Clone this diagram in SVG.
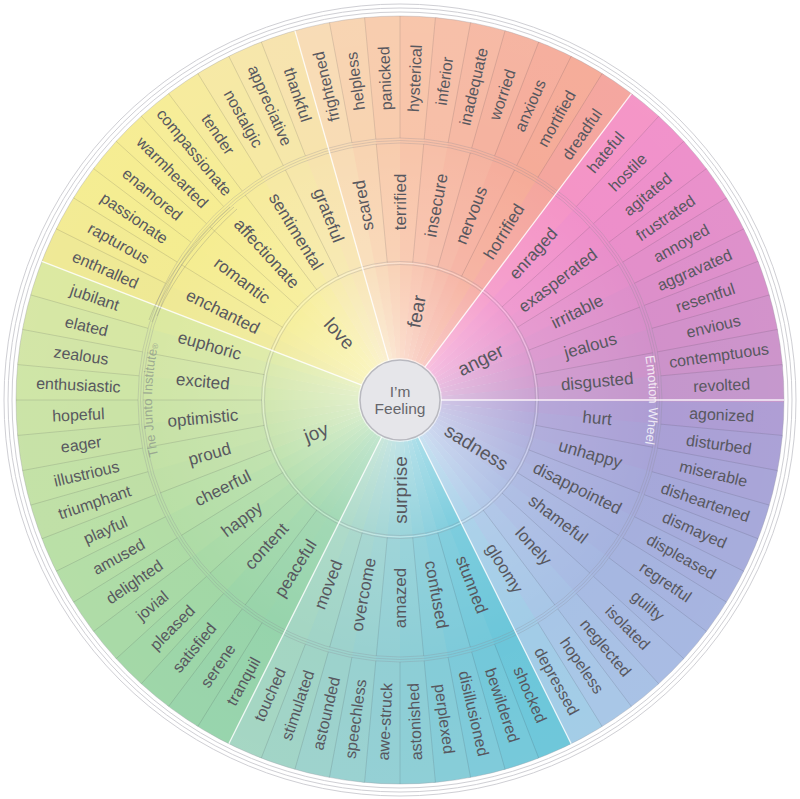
<svg xmlns="http://www.w3.org/2000/svg" width="800" height="799" viewBox="0 0 800 799">
<style>
text{font-family:"Liberation Sans",Arial,sans-serif;fill:#58585f;text-anchor:middle;dominant-baseline:central}
.o{font-size:16px}
.m{font-size:17px}
.c{font-size:19px}
.sep line{stroke:#3a3a48;stroke-opacity:.18;stroke-width:.8}
.main line{stroke:#fff;stroke-opacity:.85;stroke-width:1.3}
.ring{fill:none;stroke:#8a8a94;stroke-opacity:.35;stroke-width:.8}
.rim{fill:none;stroke:#cfcfd4;stroke-width:1}
</style>
<defs>
<path id="w" d="M0,0 L390,0 A390,390 0 0 1 388.137,38.059 Z"/>
<clipPath id="clip"><circle r="384"/></clipPath>
<radialGradient id="glow" cx="0" cy="0" r="384" gradientUnits="userSpaceOnUse">
<stop offset="0.1" stop-color="#fff" stop-opacity="0.45"/>
<stop offset="0.36" stop-color="#fff" stop-opacity="0.15"/>
<stop offset="0.68" stop-color="#fff" stop-opacity="0.04"/>
<stop offset="1" stop-color="#fff" stop-opacity="0.06"/>
</radialGradient>
<path id="jp" d="M-214.78,124 A248,248 0 0 1 -214.78,-124"/>
<path id="ep" d="M215.64,-124.5 A249,249 0 0 1 215.64,124.5"/>
</defs>
<rect width="800" height="799" fill="#fff"/>
<circle class="rim" cx="400" cy="400" r="388"/>
<circle class="rim" cx="400" cy="400" r="392"/>
<circle class="rim" cx="400" cy="400" r="396" stroke="#dcdce0"/>
<g transform="translate(400,400)">
<g id="colour-wheel" clip-path="url(#clip)">
<use href="#w" transform="rotate(0)" fill="#aa98d2"/>
<use href="#w" transform="rotate(5.294)" fill="#a69cd4"/>
<use href="#w" transform="rotate(10.588)" fill="#a4a0d6"/>
<use href="#w" transform="rotate(15.882)" fill="#a2a4d8"/>
<use href="#w" transform="rotate(21.176)" fill="#a2a8da"/>
<use href="#w" transform="rotate(26.471)" fill="#a2acdc"/>
<use href="#w" transform="rotate(31.765)" fill="#a2b0de"/>
<use href="#w" transform="rotate(37.059)" fill="#a2b4e0"/>
<use href="#w" transform="rotate(42.353)" fill="#a4b8e2"/>
<use href="#w" transform="rotate(47.647)" fill="#a4bee4"/>
<use href="#w" transform="rotate(52.941)" fill="#a4c4e6"/>
<use href="#w" transform="rotate(58.235)" fill="#9ecae6"/>
<use href="#w" transform="rotate(63.529)" fill="#66c4d8"/>
<use href="#w" transform="rotate(68.824)" fill="#6ec6d8"/>
<use href="#w" transform="rotate(74.118)" fill="#78c8d8"/>
<use href="#w" transform="rotate(79.412)" fill="#80cad6"/>
<use href="#w" transform="rotate(84.706)" fill="#88ccd4"/>
<use href="#w" transform="rotate(90)" fill="#8ecdd2"/>
<use href="#w" transform="rotate(95.294)" fill="#94cfce"/>
<use href="#w" transform="rotate(100.588)" fill="#98d0ca"/>
<use href="#w" transform="rotate(105.882)" fill="#9cd2c4"/>
<use href="#w" transform="rotate(111.176)" fill="#a0d4c0"/>
<use href="#w" transform="rotate(116.471)" fill="#92d2a8"/>
<use href="#w" transform="rotate(121.765)" fill="#94d2a6"/>
<use href="#w" transform="rotate(127.059)" fill="#98d4a4"/>
<use href="#w" transform="rotate(132.353)" fill="#9ed6a2"/>
<use href="#w" transform="rotate(137.647)" fill="#a4d8a2"/>
<use href="#w" transform="rotate(142.941)" fill="#aadaa2"/>
<use href="#w" transform="rotate(148.235)" fill="#b0dca2"/>
<use href="#w" transform="rotate(153.529)" fill="#b6dea2"/>
<use href="#w" transform="rotate(158.824)" fill="#bcdea2"/>
<use href="#w" transform="rotate(164.118)" fill="#c0e0a2"/>
<use href="#w" transform="rotate(169.412)" fill="#c4e0a2"/>
<use href="#w" transform="rotate(174.706)" fill="#c8e2a2"/>
<use href="#w" transform="rotate(180)" fill="#cce4a2"/>
<use href="#w" transform="rotate(185.294)" fill="#d0e4a2"/>
<use href="#w" transform="rotate(190.588)" fill="#d4e6a0"/>
<use href="#w" transform="rotate(195.882)" fill="#dae89c"/>
<use href="#w" transform="rotate(201.176)" fill="#eee890"/>
<use href="#w" transform="rotate(206.471)" fill="#f2ea8e"/>
<use href="#w" transform="rotate(211.765)" fill="#f4ec8c"/>
<use href="#w" transform="rotate(217.059)" fill="#f5ec8c"/>
<use href="#w" transform="rotate(222.353)" fill="#f6ec8e"/>
<use href="#w" transform="rotate(227.647)" fill="#f6ec92"/>
<use href="#w" transform="rotate(232.941)" fill="#f6ea98"/>
<use href="#w" transform="rotate(238.235)" fill="#f6e8a0"/>
<use href="#w" transform="rotate(243.529)" fill="#f6e6a6"/>
<use href="#w" transform="rotate(248.824)" fill="#f7e2aa"/>
<use href="#w" transform="rotate(254.118)" fill="#f8dab2"/>
<use href="#w" transform="rotate(259.412)" fill="#f8d2ae"/>
<use href="#w" transform="rotate(264.706)" fill="#f8caaa"/>
<use href="#w" transform="rotate(270)" fill="#f8c2a6"/>
<use href="#w" transform="rotate(275.294)" fill="#f7bca4"/>
<use href="#w" transform="rotate(280.588)" fill="#f6b6a0"/>
<use href="#w" transform="rotate(285.882)" fill="#f5b09c"/>
<use href="#w" transform="rotate(291.176)" fill="#f5aa98"/>
<use href="#w" transform="rotate(296.471)" fill="#f5a894"/>
<use href="#w" transform="rotate(301.765)" fill="#f4a29a"/>
<use href="#w" transform="rotate(307.059)" fill="#f490c4"/>
<use href="#w" transform="rotate(312.353)" fill="#f08cc8"/>
<use href="#w" transform="rotate(317.647)" fill="#ec8ac8"/>
<use href="#w" transform="rotate(322.941)" fill="#e88ac8"/>
<use href="#w" transform="rotate(328.235)" fill="#e28ac8"/>
<use href="#w" transform="rotate(333.529)" fill="#dc8ac8"/>
<use href="#w" transform="rotate(338.824)" fill="#d68ac8"/>
<use href="#w" transform="rotate(344.118)" fill="#d08cc8"/>
<use href="#w" transform="rotate(349.412)" fill="#ca8ec8"/>
<use href="#w" transform="rotate(354.706)" fill="#c292ca"/>
</g>
<circle r="384" fill="url(#glow)"/>
<circle r="384" fill="none" stroke="#9a9aa4" stroke-opacity=".35" stroke-width="1"/>
<g id="rings">
<circle class="ring" r="135.5"/>
<circle class="ring" r="138.5"/>
<circle r="137" fill="none" stroke="#fff" stroke-opacity=".4" stroke-width="1"/>
<circle class="ring" r="257"/>
<circle class="ring" r="259.5"/>
<circle class="ring" r="262"/>
</g>
<g id="connectors">
<g class="sep">
<line x1="262" x2="384" transform="rotate(5.294)"/><line x1="262" x2="384" transform="rotate(10.588)"/><line x1="262" x2="384" transform="rotate(15.882)"/><line x1="262" x2="384" transform="rotate(21.176)"/><line x1="262" x2="384" transform="rotate(26.471)"/><line x1="262" x2="384" transform="rotate(31.765)"/><line x1="262" x2="384" transform="rotate(37.059)"/><line x1="262" x2="384" transform="rotate(42.353)"/><line x1="262" x2="384" transform="rotate(47.647)"/><line x1="262" x2="384" transform="rotate(52.941)"/><line x1="262" x2="384" transform="rotate(58.235)"/>
<line x1="262" x2="384" transform="rotate(68.824)"/><line x1="262" x2="384" transform="rotate(74.118)"/><line x1="262" x2="384" transform="rotate(79.412)"/><line x1="262" x2="384" transform="rotate(84.706)"/><line x1="262" x2="384" transform="rotate(90)"/><line x1="262" x2="384" transform="rotate(95.294)"/><line x1="262" x2="384" transform="rotate(100.588)"/><line x1="262" x2="384" transform="rotate(105.882)"/><line x1="262" x2="384" transform="rotate(111.176)"/>
<line x1="262" x2="384" transform="rotate(121.765)"/><line x1="262" x2="384" transform="rotate(127.059)"/><line x1="262" x2="384" transform="rotate(132.353)"/><line x1="262" x2="384" transform="rotate(137.647)"/><line x1="262" x2="384" transform="rotate(142.941)"/><line x1="262" x2="384" transform="rotate(148.235)"/><line x1="262" x2="384" transform="rotate(153.529)"/><line x1="262" x2="384" transform="rotate(158.824)"/><line x1="262" x2="384" transform="rotate(164.118)"/><line x1="262" x2="384" transform="rotate(169.412)"/><line x1="262" x2="384" transform="rotate(174.706)"/><line x1="262" x2="384" transform="rotate(180)"/><line x1="262" x2="384" transform="rotate(185.294)"/><line x1="262" x2="384" transform="rotate(190.588)"/><line x1="262" x2="384" transform="rotate(195.882)"/>
<line x1="262" x2="384" transform="rotate(206.471)"/><line x1="262" x2="384" transform="rotate(211.765)"/><line x1="262" x2="384" transform="rotate(217.059)"/><line x1="262" x2="384" transform="rotate(222.353)"/><line x1="262" x2="384" transform="rotate(227.647)"/><line x1="262" x2="384" transform="rotate(232.941)"/><line x1="262" x2="384" transform="rotate(238.235)"/><line x1="262" x2="384" transform="rotate(243.529)"/><line x1="262" x2="384" transform="rotate(248.824)"/>
<line x1="262" x2="384" transform="rotate(259.412)"/><line x1="262" x2="384" transform="rotate(264.706)"/><line x1="262" x2="384" transform="rotate(270)"/><line x1="262" x2="384" transform="rotate(275.294)"/><line x1="262" x2="384" transform="rotate(280.588)"/><line x1="262" x2="384" transform="rotate(285.882)"/><line x1="262" x2="384" transform="rotate(291.176)"/><line x1="262" x2="384" transform="rotate(296.471)"/><line x1="262" x2="384" transform="rotate(301.765)"/>
<line x1="262" x2="384" transform="rotate(312.353)"/><line x1="262" x2="384" transform="rotate(317.647)"/><line x1="262" x2="384" transform="rotate(322.941)"/><line x1="262" x2="384" transform="rotate(328.235)"/><line x1="262" x2="384" transform="rotate(333.529)"/><line x1="262" x2="384" transform="rotate(338.824)"/><line x1="262" x2="384" transform="rotate(344.118)"/><line x1="262" x2="384" transform="rotate(349.412)"/><line x1="262" x2="384" transform="rotate(354.706)"/>
<line x1="138" x2="257" transform="rotate(10.588)"/><line x1="138" x2="257" transform="rotate(21.176)"/><line x1="138" x2="257" transform="rotate(31.765)"/><line x1="138" x2="257" transform="rotate(42.353)"/><line x1="138" x2="257" transform="rotate(52.941)"/>
<line x1="138" x2="257" transform="rotate(74.118)"/><line x1="138" x2="257" transform="rotate(84.706)"/><line x1="138" x2="257" transform="rotate(95.294)"/><line x1="138" x2="257" transform="rotate(105.882)"/>
<line x1="138" x2="257" transform="rotate(127.059)"/><line x1="138" x2="257" transform="rotate(137.647)"/><line x1="138" x2="257" transform="rotate(148.235)"/><line x1="138" x2="257" transform="rotate(158.824)"/><line x1="138" x2="257" transform="rotate(169.412)"/><line x1="138" x2="257" transform="rotate(180)"/><line x1="138" x2="257" transform="rotate(190.588)"/>
<line x1="138" x2="257" transform="rotate(211.765)"/><line x1="138" x2="257" transform="rotate(222.353)"/><line x1="138" x2="257" transform="rotate(232.941)"/><line x1="138" x2="257" transform="rotate(243.529)"/>
<line x1="138" x2="257" transform="rotate(264.706)"/><line x1="138" x2="257" transform="rotate(275.294)"/><line x1="138" x2="257" transform="rotate(285.882)"/><line x1="138" x2="257" transform="rotate(296.471)"/>
<line x1="138" x2="257" transform="rotate(317.647)"/><line x1="138" x2="257" transform="rotate(328.235)"/><line x1="138" x2="257" transform="rotate(338.824)"/><line x1="138" x2="257" transform="rotate(349.412)"/>
</g>
<g class="main">
<line x1="41" x2="384" transform="rotate(0)"/>
<line x1="41" x2="384" transform="rotate(63.529)"/>
<line x1="41" x2="384" transform="rotate(116.471)"/>
<line x1="41" x2="384" transform="rotate(201.176)"/>
<line x1="41" x2="384" transform="rotate(254.118)"/>
<line x1="41" x2="384" transform="rotate(307.059)"/>
</g>
</g>
<g id="sadness">
<text class="c" x="90" transform="rotate(31.765)">sadness</text>
<text class="m" x="198" transform="rotate(5.294)">hurt</text>
<text class="m" x="198" transform="rotate(15.882)">unhappy</text>
<text class="m" x="198" transform="rotate(26.471)">disappointed</text>
<text class="m" x="198" transform="rotate(37.059)">shameful</text>
<text class="m" x="198" transform="rotate(47.647)">lonely</text>
<text class="m" x="198" transform="rotate(58.235)">gloomy</text>
<text class="o" x="322" transform="rotate(2.647)">agonized</text>
<text class="o" x="322" transform="rotate(7.941)">disturbed</text>
<text class="o" x="322" transform="rotate(13.235)">miserable</text>
<text class="o" x="322" transform="rotate(18.529)">disheartened</text>
<text class="o" x="322" transform="rotate(23.824)">dismayed</text>
<text class="o" x="322" transform="rotate(29.118)">displeased</text>
<text class="o" x="322" transform="rotate(34.412)">regretful</text>
<text class="o" x="322" transform="rotate(39.706)">guilty</text>
<text class="o" x="322" transform="rotate(45)">isolated</text>
<text class="o" x="322" transform="rotate(50.294)">neglected</text>
<text class="o" x="322" transform="rotate(55.588)">hopeless</text>
<text class="o" x="322" transform="rotate(60.882)">depressed</text>
</g>
<g id="surprise">
<text class="c" x="-90" transform="rotate(-90)">surprise</text>
<text class="m" x="198" transform="rotate(68.824)">stunned</text>
<text class="m" x="198" transform="rotate(79.412)">confused</text>
<text class="m" x="-198" transform="rotate(-90)">amazed</text>
<text class="m" x="-198" transform="rotate(-79.412)">overcome</text>
<text class="m" x="-198" transform="rotate(-68.824)">moved</text>
<text class="o" x="322" transform="rotate(66.176)">shocked</text>
<text class="o" x="322" transform="rotate(71.471)">bewildered</text>
<text class="o" x="322" transform="rotate(76.765)">disillusioned</text>
<text class="o" x="322" transform="rotate(82.059)">perplexed</text>
<text class="o" x="-322" transform="rotate(-92.647)">astonished</text>
<text class="o" x="-322" transform="rotate(-87.353)">awe-struck</text>
<text class="o" x="-322" transform="rotate(-82.059)">speechless</text>
<text class="o" x="-322" transform="rotate(-76.765)">astounded</text>
<text class="o" x="-322" transform="rotate(-71.471)">stimulated</text>
<text class="o" x="-322" transform="rotate(-66.176)">touched</text>
</g>
<g id="joy">
<text class="c" x="-90" transform="rotate(-21.176)">joy</text>
<text class="m" x="-198" transform="rotate(-58.235)">peaceful</text>
<text class="m" x="-198" transform="rotate(-47.647)">content</text>
<text class="m" x="-198" transform="rotate(-37.059)">happy</text>
<text class="m" x="-198" transform="rotate(-26.471)">cheerful</text>
<text class="m" x="-198" transform="rotate(-15.882)">proud</text>
<text class="m" x="-198" transform="rotate(-5.294)">optimistic</text>
<text class="m" x="-198" transform="rotate(5.294)">excited</text>
<text class="m" x="-198" transform="rotate(15.882)">euphoric</text>
<text class="o" x="-322" transform="rotate(-60.882)">tranquil</text>
<text class="o" x="-322" transform="rotate(-55.588)">serene</text>
<text class="o" x="-322" transform="rotate(-50.294)">satisfied</text>
<text class="o" x="-322" transform="rotate(-45)">pleased</text>
<text class="o" x="-322" transform="rotate(-39.706)">jovial</text>
<text class="o" x="-322" transform="rotate(-34.412)">delighted</text>
<text class="o" x="-322" transform="rotate(-29.118)">amused</text>
<text class="o" x="-322" transform="rotate(-23.824)">playful</text>
<text class="o" x="-322" transform="rotate(-18.529)">triumphant</text>
<text class="o" x="-322" transform="rotate(-13.235)">illustrious</text>
<text class="o" x="-322" transform="rotate(-7.941)">eager</text>
<text class="o" x="-322" transform="rotate(-2.647)">hopeful</text>
<text class="o" x="-322" transform="rotate(2.647)">enthusiastic</text>
<text class="o" x="-322" transform="rotate(7.941)">zealous</text>
<text class="o" x="-322" transform="rotate(13.235)">elated</text>
<text class="o" x="-322" transform="rotate(18.529)">jubilant</text>
</g>
<g id="love">
<text class="c" x="-90" transform="rotate(47.647)">love</text>
<text class="m" x="-198" transform="rotate(26.471)">enchanted</text>
<text class="m" x="-198" transform="rotate(37.059)">romantic</text>
<text class="m" x="-198" transform="rotate(47.647)">affectionate</text>
<text class="m" x="-198" transform="rotate(58.235)">sentimental</text>
<text class="m" x="-198" transform="rotate(68.824)">grateful</text>
<text class="o" x="-322" transform="rotate(23.824)">enthralled</text>
<text class="o" x="-322" transform="rotate(29.118)">rapturous</text>
<text class="o" x="-322" transform="rotate(34.412)">passionate</text>
<text class="o" x="-322" transform="rotate(39.706)">enamored</text>
<text class="o" x="-322" transform="rotate(45)">warmhearted</text>
<text class="o" x="-322" transform="rotate(50.294)">compassionate</text>
<text class="o" x="-322" transform="rotate(55.588)">tender</text>
<text class="o" x="-322" transform="rotate(60.882)">nostalgic</text>
<text class="o" x="-322" transform="rotate(66.176)">appreciative</text>
<text class="o" x="-322" transform="rotate(71.471)">thankful</text>
</g>
<g id="fear">
<text class="c" x="90" transform="rotate(-79.412)">fear</text>
<text class="m" x="198" transform="rotate(-100.588)">scared</text>
<text class="m" x="198" transform="rotate(-90)">terrified</text>
<text class="m" x="198" transform="rotate(-79.412)">insecure</text>
<text class="m" x="198" transform="rotate(-68.824)">nervous</text>
<text class="m" x="198" transform="rotate(-58.235)">horrified</text>
<text class="o" x="322" transform="rotate(-103.235)">frightened</text>
<text class="o" x="322" transform="rotate(-97.941)">helpless</text>
<text class="o" x="322" transform="rotate(-92.647)">panicked</text>
<text class="o" x="322" transform="rotate(-87.353)">hysterical</text>
<text class="o" x="322" transform="rotate(-82.059)">inferior</text>
<text class="o" x="322" transform="rotate(-76.765)">inadequate</text>
<text class="o" x="322" transform="rotate(-71.471)">worried</text>
<text class="o" x="322" transform="rotate(-66.176)">anxious</text>
<text class="o" x="322" transform="rotate(-60.882)">mortified</text>
<text class="o" x="322" transform="rotate(-55.588)">dreadful</text>
</g>
<g id="anger">
<text class="c" x="90" transform="rotate(-26.471)">anger</text>
<text class="m" x="198" transform="rotate(-47.647)">enraged</text>
<text class="m" x="198" transform="rotate(-37.059)">exasperated</text>
<text class="m" x="198" transform="rotate(-26.471)">irritable</text>
<text class="m" x="198" transform="rotate(-15.882)">jealous</text>
<text class="m" x="198" transform="rotate(-5.294)">disgusted</text>
<text class="o" x="322" transform="rotate(-50.294)">hateful</text>
<text class="o" x="322" transform="rotate(-45)">hostile</text>
<text class="o" x="322" transform="rotate(-39.706)">agitated</text>
<text class="o" x="322" transform="rotate(-34.412)">frustrated</text>
<text class="o" x="322" transform="rotate(-29.118)">annoyed</text>
<text class="o" x="322" transform="rotate(-23.824)">aggravated</text>
<text class="o" x="322" transform="rotate(-18.529)">resentful</text>
<text class="o" x="322" transform="rotate(-13.235)">envious</text>
<text class="o" x="322" transform="rotate(-7.941)">contemptuous</text>
<text class="o" x="322" transform="rotate(-2.647)">revolted</text>
</g>
<g id="labels">
<text font-size="13" style="fill:#8f9a8c;fill-opacity:.8;dominant-baseline:auto"><textPath href="#jp" startOffset="50%">The Junto Institute<tspan font-size="8">®</tspan></textPath></text>
<text font-size="13" style="fill:#fff;fill-opacity:.8;dominant-baseline:auto"><textPath href="#ep" startOffset="50%">Emotion Wheel</textPath></text>
</g>
<g id="center">
<circle r="42" fill="#fff" fill-opacity=".6"/>
<circle r="40" fill="#e6e6ea" stroke="#b9b9c0" stroke-width="1.5"/>
<text x="0" y="-9" font-size="15.5" style="fill:#66666c">I’m</text>
<text x="0" y="8" font-size="15.5" style="fill:#66666c">Feeling</text>
</g>
</g>
<g id="swoosh" fill="none" stroke="#8a8a7c" stroke-opacity=".35" stroke-width="1">
<path d="M234,207 C205,232 170,272 152,322"/>
<path d="M230,207 C202,232 167,272 149,320"/>
<path d="M237,209 C209,234 174,274 157,316"/>
</g>
</svg>
